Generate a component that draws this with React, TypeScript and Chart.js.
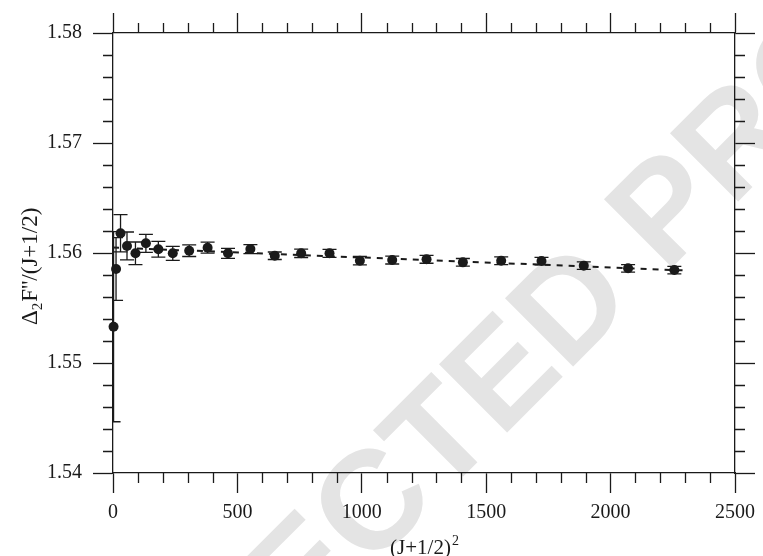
import React, { useEffect, useRef } from 'react';
import { Chart, registerables } from 'chart.js';

Chart.register(...registerables);

// ---- data ----
const xValues = [2.25, 12.25, 30.25, 56.25, 90.25, 132.25, 182.25, 240.25, 306.25, 380.25, 462.25, 552.25,
  650.25, 756.25, 870.25, 992.25, 1122.25, 1260.25, 1406.25, 1560.25, 1722.25, 1892.25, 2070.25, 2256.25];
const yValues = [1.5533, 1.55855, 1.56179, 1.56064, 1.55997, 1.56088, 1.56034, 1.55997, 1.56021, 1.56048, 1.55997, 1.56036,
  1.55975, 1.55997, 1.55997, 1.5593, 1.55936, 1.55943, 1.55915, 1.5593, 1.55927, 1.55885, 1.55861, 1.55845];
const yErrors = [0.00864, 0.00285, 0.00169, 0.00127, 0.00103, 0.00082, 0.00071, 0.00064, 0.00053, 0.0005, 0.00045, 0.00041,
  0.00034, 0.00038, 0.00036, 0.00038, 0.00036, 0.00036, 0.00035, 0.00035, 0.00034, 0.00034, 0.00034, 0.00034];
const fitX = [0, 2290];
const fitY = [1.5605, 1.55842];

const xTickValues = [0, 500, 1000, 1500, 2000, 2500];
const yTickValues = [1.54, 1.55, 1.56, 1.57, 1.58];
const xMinorStep = 100;
const yMinorStep = 0.002;

const xTitleMain = '(J+1/2)';
const xTitleSup = '2';
const yTitleDelta = 'Δ';
const yTitleSub = '2';
const yTitleRest = "F''/(J+1/2)";
const watermarkText = 'CORRECTED PROOF';

const INK = '#1a1a1a';
const SERIF = '"Liberation Serif", "Times New Roman", serif';

const watermarkPlugin = {
  id: 'watermark',
  beforeDraw(chart: any) {
    const ctx = chart.ctx;
    ctx.save();
    ctx.translate(487, 398);
    ctx.rotate(-Math.PI / 4);
    ctx.font = 'bold 140px "Liberation Sans", Arial, sans-serif';
    ctx.fillStyle = '#e4e4e4';
    ctx.textAlign = 'center';
    ctx.textBaseline = 'middle';
    ctx.fillText(watermarkText, 0, 0);
    ctx.restore();
  },
};

const errorBarPlugin = {
  id: 'errorBars',
  beforeDatasetsDraw(chart: any) {
    const { ctx, chartArea, scales } = chart;
    const xs = scales.x, ys = scales.y;
    ctx.save();
    ctx.beginPath();
    ctx.rect(chartArea.left, chartArea.top, chartArea.right - chartArea.left, chartArea.bottom - chartArea.top);
    ctx.clip();
    ctx.strokeStyle = INK;
    ctx.lineWidth = 1.3;
    const cap = 7;
    xValues.forEach((xv, i) => {
      const px = xs.getPixelForValue(xv);
      const top = ys.getPixelForValue(yValues[i] + yErrors[i]);
      const bot = ys.getPixelForValue(yValues[i] - yErrors[i]);
      ctx.beginPath();
      ctx.moveTo(px, top); ctx.lineTo(px, bot);
      ctx.moveTo(px - cap, top); ctx.lineTo(px + cap, top);
      ctx.moveTo(px - cap, bot); ctx.lineTo(px + cap, bot);
      ctx.stroke();
    });
    ctx.restore();
  },
};

const minorTicksPlugin = {
  id: 'minorTicks',
  afterDraw(chart: any) {
    const { ctx, chartArea, scales } = chart;
    const xs = scales.x, ys = scales.y;
    ctx.save();
    ctx.strokeStyle = INK;
    ctx.lineWidth = 1.3;
    ctx.beginPath();
    const nx = Math.round(2500 / xMinorStep);
    for (let k = 0; k <= nx; k++) {
      const v = k * xMinorStep;
      if (v % 500 === 0) continue;
      const px = Math.round(xs.getPixelForValue(v)) + 0.5;
      ctx.moveTo(px, chartArea.bottom); ctx.lineTo(px, chartArea.bottom + 10);
      ctx.moveTo(px, chartArea.top); ctx.lineTo(px, chartArea.top - 10);
    }
    const ny = Math.round((1.58 - 1.54) / yMinorStep);
    for (let k = 0; k <= ny; k++) {
      if (k % 5 === 0) continue;
      const v = 1.54 + k * yMinorStep;
      const py = Math.round(ys.getPixelForValue(v)) + 0.5;
      ctx.moveTo(chartArea.left, py); ctx.lineTo(chartArea.left - 10, py);
      ctx.moveTo(chartArea.right, py); ctx.lineTo(chartArea.right + 10, py);
    }
    ctx.stroke();
    ctx.restore();
  },
};

const titlesPlugin = {
  id: 'titles',
  afterDraw(chart: any) {
    const { ctx, chartArea } = chart;
    ctx.save();
    ctx.fillStyle = INK;
    ctx.textBaseline = 'alphabetic';
    ctx.textAlign = 'left';
    // x title
    ctx.font = `21px ${SERIF}`;
    const w1 = ctx.measureText(xTitleMain).width;
    ctx.font = `14px ${SERIF}`;
    const w2 = ctx.measureText(xTitleSup).width;
    const cx = (chartArea.left + chartArea.right) / 2;
    const sx = cx - (w1 + w2) / 2;
    ctx.font = `21px ${SERIF}`;
    ctx.fillText(xTitleMain, sx, 554);
    ctx.font = `14px ${SERIF}`;
    ctx.fillText(xTitleSup, sx + w1 + 1, 545);
    // y title
    ctx.translate(37, 325);
    ctx.rotate(-Math.PI / 2);
    ctx.font = `23px ${SERIF}`;
    ctx.fillText(yTitleDelta, 0, 0);
    let off = ctx.measureText(yTitleDelta).width;
    ctx.font = `15px ${SERIF}`;
    ctx.fillText(yTitleSub, off, 5);
    off += ctx.measureText(yTitleSub).width + 1;
    ctx.font = `23px ${SERIF}`;
    ctx.fillText(yTitleRest, off, 0);
    ctx.restore();
  },
};

function axisGrid() {
  return {
    drawOnChartArea: false,
    drawTicks: true,
    tickLength: 20,
    tickColor: INK,
    tickWidth: 1.3,
  };
}

export default function App() {
  const canvasRef = useRef<HTMLCanvasElement | null>(null);

  useEffect(() => {
    const canvas = canvasRef.current;
    if (!canvas) return;
    Chart.defaults.font.family = SERIF;
    const setXTicks = (s: any) => { s.ticks = xTickValues.map((v) => ({ value: v })); };
    const setYTicks = (s: any) => { s.ticks = yTickValues.map((v) => ({ value: v })); };
    const chart = new Chart(canvas, {
      type: 'scatter',
      data: {
        datasets: [
          {
            type: 'line',
            data: fitX.map((x, i) => ({ x, y: fitY[i] })),
            borderColor: INK,
            borderWidth: 2,
            borderDash: [6, 6],
            pointRadius: 0,
            fill: false,
            order: 2,
          } as any,
          {
            type: 'scatter',
            data: xValues.map((x, i) => ({ x, y: yValues[i] })),
            pointRadius: 5,
            pointHoverRadius: 5,
            backgroundColor: INK,
            borderColor: INK,
            borderWidth: 0,
            clip: false,
            order: 1,
          } as any,
        ],
      },
      options: {
        responsive: false,
        animation: false,
        devicePixelRatio: 1,
        layout: { padding: 0 },
        events: [],
        plugins: { legend: { display: false }, tooltip: { enabled: false } },
        scales: {
          x: {
            type: 'linear', position: 'bottom', min: 0, max: 2500,
            afterBuildTicks: setXTicks,
            afterFit: (s: any) => { s.height = 83; },
            ticks: { font: { family: SERIF, size: 20 }, color: INK, padding: 8, maxRotation: 0, autoSkip: false, callback: (v: any) => String(v) },
            grid: axisGrid(),
            border: { display: true, color: INK, width: 1.3 },
          },
          x2: {
            type: 'linear', position: 'top', min: 0, max: 2500,
            afterBuildTicks: setXTicks,
            afterFit: (s: any) => { s.height = 33; },
            ticks: { display: false },
            grid: axisGrid(),
            border: { display: true, color: INK, width: 1.3 },
          },
          y: {
            type: 'linear', position: 'left', min: 1.54, max: 1.58,
            afterBuildTicks: setYTicks,
            afterFit: (s: any) => { s.width = 113; },
            ticks: { font: { family: SERIF, size: 20 }, color: INK, padding: 11, autoSkip: false, callback: (v: any) => Number(v).toFixed(2) },
            grid: axisGrid(),
            border: { display: true, color: INK, width: 1.3 },
          },
          y2: {
            type: 'linear', position: 'right', min: 1.54, max: 1.58,
            afterBuildTicks: setYTicks,
            afterFit: (s: any) => { s.width = 21; },
            ticks: { display: false },
            grid: axisGrid(),
            border: { display: true, color: INK, width: 1.3 },
          },
        },
      } as any,
      plugins: [watermarkPlugin, errorBarPlugin, minorTicksPlugin, titlesPlugin],
    });
    return () => chart.destroy();
  }, []);

  return (
    <div style={{ position: 'absolute', left: 0, top: 0, width: 763, height: 556, background: '#fff' }}>
      <canvas ref={canvasRef} width={763} height={556} style={{ display: 'block', width: 763, height: 556 }} />
    </div>
  );
}
